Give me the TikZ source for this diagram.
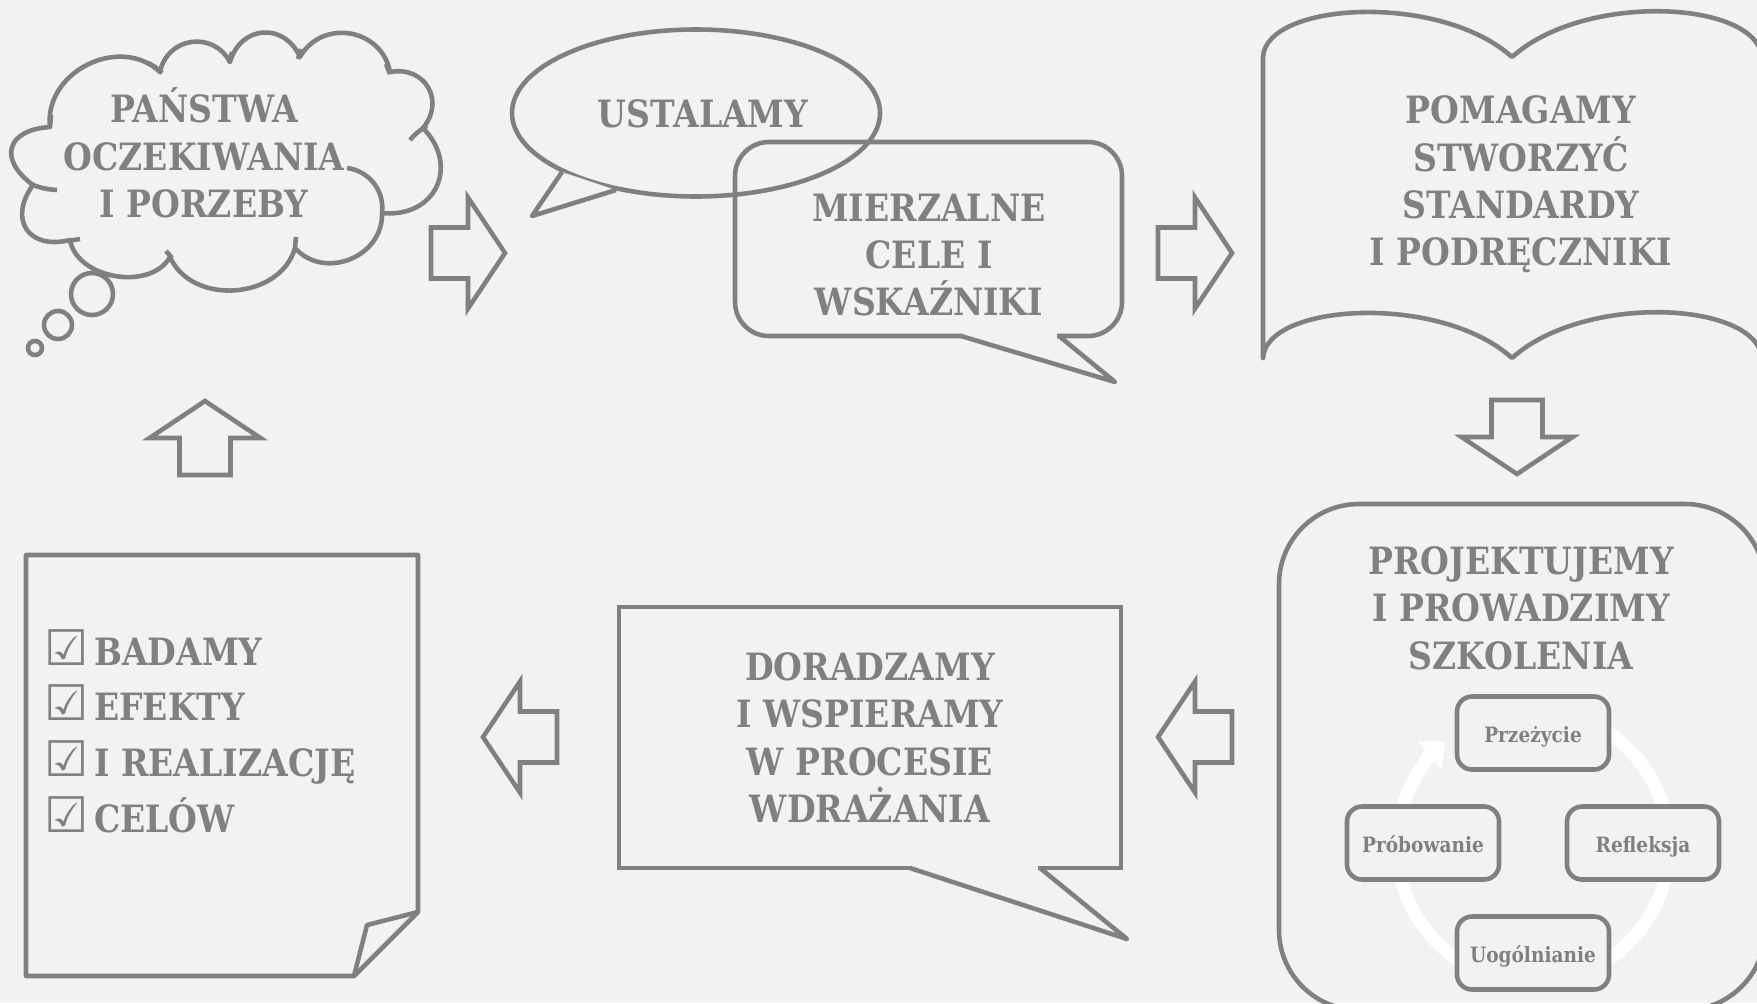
\documentclass[tikz,border=0pt]{standalone}
\usepackage{fontspec}
\newfontfamily\slab{DejaVu Serif}[FakeStretch=0.88]
\newfontfamily\symb{DejaVu Sans}
\usetikzlibrary{shapes.geometric, arrows.meta, calc}
\definecolor{ink}{HTML}{808080}
\definecolor{bg}{HTML}{F2F2F2}
\tikzset{>=latex}
\tikzset{
  inkline/.style={draw=ink, line width=1.3pt},
  bigtext/.style={text=ink, align=center, font=\slab\bfseries\fontsize{10.7}{13.5}\selectfont},
  cyclebox/.style={inkline, fill=bg, rounded corners=1.5mm, minimum width=15.2mm, minimum height=7.3mm, text height=1.6ex, text depth=0.4ex, text=ink, font=\slab\bfseries\fontsize{6}{7}\selectfont},
  bubble/.style={circle, inkline, inner sep=0pt},
  pics/blockarrow/.style={code={
    \draw[inkline, line join=miter] (-37,-25.5) -- (0,-25.5) -- (0,-55.5) -- (37,0) -- (0,55.5) -- (0,25.5) -- (-37,25.5) -- cycle;}},
}

\begin{document}
\begin{tikzpicture}[x=0.1mm, y=-0.1mm]
\useasboundingbox (0,0) rectangle (1757,1003);
\fill[bg] (0,0) rectangle (1757,1003);
\clip (0,0) rectangle (1757,1003);

% thought cloud
\draw[inkline, line join=round, bend left=70] (33,185) to[looseness=1.85] (50,127) to[looseness=1.15] (160,72)
  to[looseness=1.3] (230,62) to[looseness=1.4] (300,57) to[looseness=1.25] (390,72)
  to[looseness=1.4] (423,128) to[looseness=1.45] (382,213) to[looseness=1.2] (295,248)
  to[looseness=1.1] (170,257) to[looseness=1.0] (70,240) to[looseness=1.65] (33,185) -- cycle;
\draw[inkline] (148,63) to[bend left=10] (162,73);
\draw[inkline] (232,52) -- (229,63);
\draw[inkline] (301,49) -- (298,59);
\draw[inkline] (386,64) -- (390,74);
\draw[inkline] (427,126) to[bend right=10] (410,140);
\draw[inkline] (347,168) to[bend left=45] (382,213);
\draw[inkline] (295,247) -- (296,237);
\draw[inkline] (172,258) -- (166,251);
\draw[inkline] (80,239) -- (68,241);
\draw[inkline] (57,190) to[bend left=8] (33,185);
\draw[inkline] (50,127) -- (51,115);
\node[bigtext] (needs) at (204,153) {PAŃSTWA\\OCZEKIWANIA\\I PORZEBY};
\node[bubble, minimum size=4.2mm] (bub1) at (92,294) {};
\node[bubble, minimum size=2.8mm] (bub2) at (58,325) {};
\node[bubble, minimum size=1.4mm] (bub3) at (35,348) {};

% two speech bubbles
\node[ellipse, inkline, minimum width=36.8mm, minimum height=16.7mm] (goal) at (696,113) {};
\fill[bg] (562,172) -- (532,216) -- (616,190) -- cycle;
\draw[inkline, line join=round] (562,172) -- (532,216) -- (616,190);
\node[bigtext] (goaltext) at (703,114) {USTALAMY};

\node[inkline, rounded corners=3.4mm, minimum width=38.7mm, minimum height=19.4mm] (metric) at (928.5,239) {};
\fill[bg] (963,331) rectangle (1057,343);
\draw[inkline, line join=round] (961,336) -- (1115,382) -- (1059,336);
\node[bigtext] (metrictext) at (929,255) {MIERZALNE\\CELE I\\WSKAŹNIKI};

% open book
\draw[inkline, line join=round] (1263,358) -- (1263,57)
  .. controls (1266,2) and (1440,-8) .. (1512,57)
  .. controls (1584,-8) and (1756,0) .. (1762,57) -- (1762,358)
  .. controls (1756,301) and (1584,293) .. (1512,358)
  .. controls (1440,293) and (1266,303) .. (1263,358) -- cycle;
\node[bigtext] (manual) at (1521,184.5) {POMAGAMY\\STWORZYĆ\\STANDARDY\\I PODRĘCZNIKI};

% training cycle
\node[inkline, rounded corners=8mm, minimum width=48.6mm, minimum height=50.6mm] (train) at (1522,757) {};
\node[bigtext] (traintext) at (1521,608) {PROJEKTUJEMY\\I PROWADZIMY\\SZKOLENIA};
\coordinate (cyc) at (1533,846);
\draw[white, line width=3.7pt, -{Triangle[length=6pt, width=10pt]}] ($(cyc)+(-67:136)$) arc[start angle=-67, end angle=230, radius=136];
\node[cyclebox] (exper) at (1533,733) {Przeżycie};
\node[cyclebox] (trial) at (1423,843) {Próbowanie};
\node[cyclebox] (reflect) at (1643,843) {Refleksja};
\node[cyclebox] (general) at (1533,953) {Uogólnianie};

% advice bubble
\node[inkline, bigtext, minimum width=50.2mm, minimum height=26.1mm] (advise) at (870,737.5) {DORADZAMY\\I WSPIERAMY\\W PROCESIE\\WDRAŻANIA};
\fill[bg] (912,862) rectangle (1038,874);
\draw[inkline, line join=round] (910,868) -- (1127,939) -- (1040,868);

% note with checklist
\draw[inkline, line join=round] (26,555) -- (418,555) -- (418,912) -- (354,976) -- (26,976) -- cycle;
\draw[inkline, line join=round] (418,912) -- (367,925) -- (354,976);
\foreach \txt [count=\i] in {BADAMY, EFEKTY, I REALIZACJĘ, CELÓW}
  \node[bigtext, anchor=base west, inner sep=0pt] (chk\i) at (44,{665+55.7*(\i-1)}) {{\symb\fontsize{14}{14}\selectfont ☑}\hspace{1.5pt}\txt};

% block arrows
\pic at (468,253) {blockarrow};
\pic at (1195,253) {blockarrow};
\pic[rotate=-90] at (1517,437) {blockarrow};
\pic[rotate=180] at (1195,737) {blockarrow};
\pic[rotate=180] at (520,737) {blockarrow};
\pic[rotate=90] at (205,438) {blockarrow};
\end{tikzpicture}
\end{document}
